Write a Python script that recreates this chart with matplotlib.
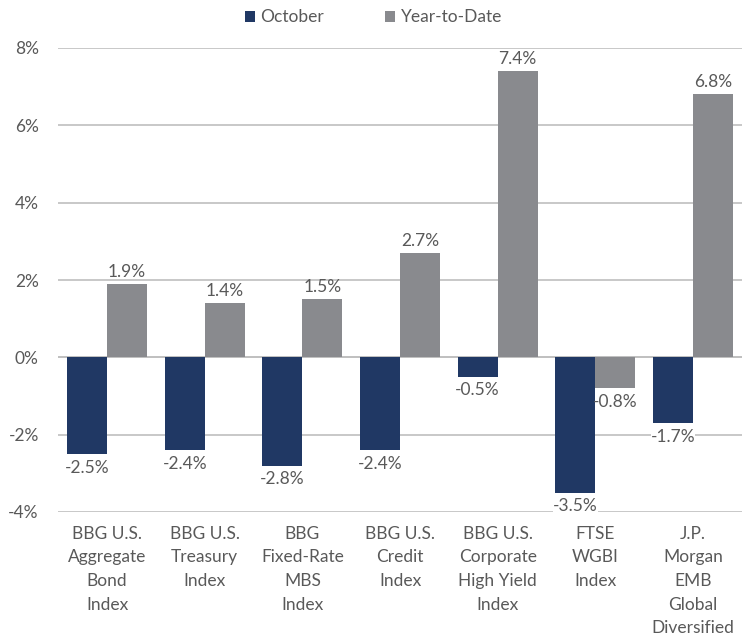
import matplotlib.pyplot as plt
import numpy as np

plt.rcParams['font.family'] = ['Lato', 'DejaVu Sans']

categories = ["BBG U.S.\nAggregate\nBond\nIndex", "BBG U.S.\nTreasury\nIndex",
              "BBG\nFixed-Rate\nMBS\nIndex", "BBG U.S.\nCredit\nIndex",
              "BBG U.S.\nCorporate\nHigh Yield\nIndex", "FTSE\nWGBI\nIndex",
              "J.P.\nMorgan\nEMB\nGlobal\nDiversified"]
october = [-2.5, -2.4, -2.8, -2.4, -0.5, -3.5, -1.7]
ytd = [1.9, 1.4, 1.5, 2.7, 7.4, -0.8, 6.8]

navy = '#203864'
grey = '#898A8E'
txt = '#595959'

fig = plt.figure(figsize=(7.47, 6.4), dpi=100)
ax = fig.add_axes([0.078, 0.2, 0.915, 0.725])

x = np.arange(len(categories))
w = 0.41
b1 = ax.bar(x - w/2, october, w, color=navy, label='October', zorder=3)
b2 = ax.bar(x + w/2, ytd, w, color=grey, label='Year-to-Date', zorder=3)

# data labels, October ones get a white box so the gridline is cut
for bars, vals, boxed in [(b1, october, True), (b2, ytd, False)]:
    for r, v in zip(bars, vals):
        cx = r.get_x() + r.get_width()/2
        if v >= 0:
            ax.annotate('%.1f%%' % v, (cx, v), xytext=(0, 3), textcoords='offset points',
                        ha='center', va='bottom', fontsize=12.5, color=txt, zorder=4)
        else:
            bb = dict(facecolor='white', edgecolor='none', pad=0) if boxed else None
            ax.annotate('%.1f%%' % v, (cx, v), xytext=(0, -4), textcoords='offset points',
                        ha='center', va='top', fontsize=12.5, color=txt, zorder=4, bbox=bb)

ax.set_xlim(-0.5, len(categories) - 0.5)
ax.set_ylim(-4, 8)
ax.set_yticks(np.arange(-4, 9, 2))
ax.set_yticklabels(['%d%%' % t for t in np.arange(-4, 9, 2)])
ax.yaxis.grid(True, color='#BFBFBF', linewidth=1.2, zorder=0)
ax.axhline(0, color='#BFBFBF', linewidth=1.2, zorder=2)
ax.set_xticks(x)
ax.set_xticklabels(categories, linespacing=1.58)
ax.tick_params(axis='both', length=0, labelsize=12.5, colors=txt)
ax.tick_params(axis='x', pad=10)
ax.tick_params(axis='y', pad=14)
for s in ax.spines.values():
    s.set_visible(False)

fig.legend(loc='upper center', bbox_to_anchor=(0.5, 1.01), ncol=2, frameon=False,
           fontsize=12.5, handlelength=0.6, handleheight=0.6, handletextpad=0.3,
           columnspacing=3.5, labelcolor=txt)

plt.savefig('out.png', dpi=100)
